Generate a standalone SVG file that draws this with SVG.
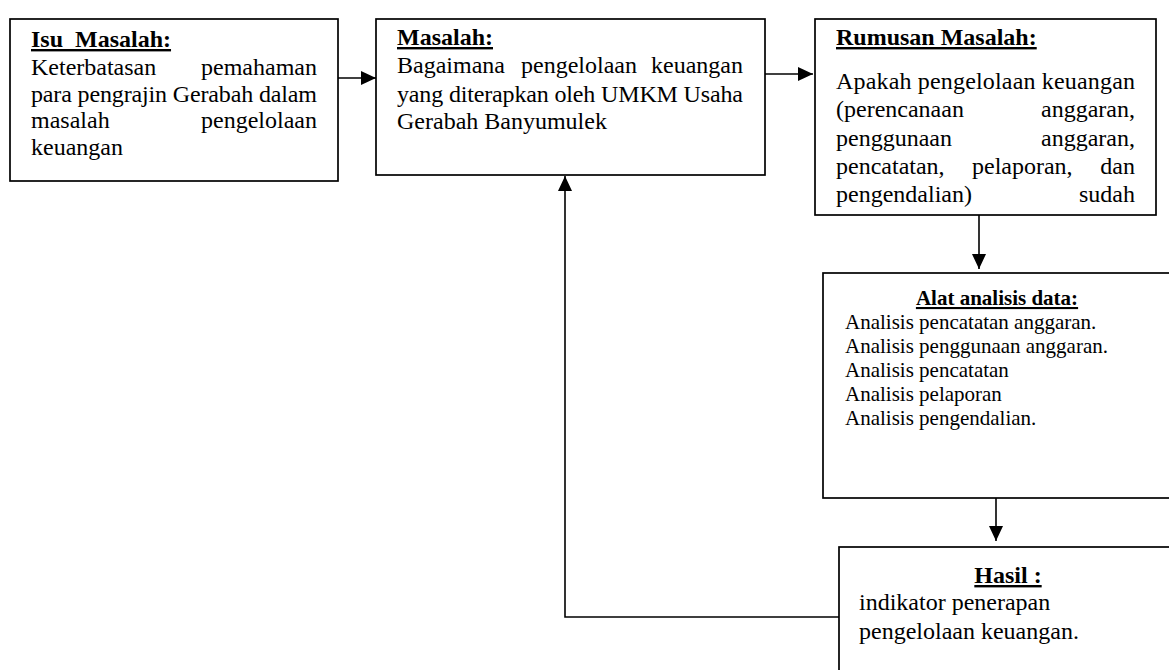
<svg xmlns="http://www.w3.org/2000/svg" width="1169" height="670" viewBox="0 0 1169 670">
<style>
.box{fill:#fff;stroke:#000;stroke-width:1.7}
.t{font-family:"Liberation Serif","Times New Roman",serif;font-size:24px;fill:#000}
.s{font-family:"Liberation Serif","Times New Roman",serif;font-size:21px;fill:#000}
.h{font-weight:bold;text-decoration:underline}
.c{fill:none;stroke:#000;stroke-width:1.6}
</style>
<defs>
<marker id="ah" markerUnits="userSpaceOnUse" markerWidth="16" markerHeight="14" refX="15" refY="7" orient="auto">
<path d="M0,0 L15,7 L0,14 Z" fill="#000"/>
</marker>
</defs>
<rect width="1169" height="670" fill="#fff"/>
<g id="connectors">
<line class="c" x1="338" y1="78" x2="376" y2="78" marker-end="url(#ah)"/>
<line class="c" x1="765" y1="74" x2="813" y2="74" marker-end="url(#ah)"/>
<line class="c" x1="979" y1="215" x2="979" y2="269" marker-end="url(#ah)"/>
<line class="c" x1="996" y1="498" x2="996" y2="541" marker-end="url(#ah)"/>
<polyline class="c" points="839,617 565,617 565,176" marker-end="url(#ah)"/>
</g>
<g id="isu">
<rect class="box" x="10" y="19" width="328" height="162"/>
<text class="t h" x="31" y="47" xml:space="preserve">Isu  Masalah:</text>
<text class="t" x="31" y="75">Keterbatasan</text>
<text class="t" x="317" y="75" text-anchor="end">pemahaman</text>
<text class="t" x="31" y="102" textLength="286" lengthAdjust="spacing">para pengrajin Gerabah dalam</text>
<text class="t" x="31" y="128">masalah</text>
<text class="t" x="317" y="128" text-anchor="end">pengelolaan</text>
<text class="t" x="31" y="155">keuangan</text>
</g>
<g id="masalah">
<rect class="box" x="376" y="19" width="389" height="156"/>
<text class="t h" x="397" y="45">Masalah:</text>
<text class="t" x="397" y="73">Bagaimana</text>
<text class="t" x="521" y="73">pengelolaan</text>
<text class="t" x="743" y="73" text-anchor="end">keuangan</text>
<text class="t" x="397" y="102" textLength="346" lengthAdjust="spacing">yang diterapkan oleh UMKM Usaha</text>
<text class="t" x="397" y="129">Gerabah Banyumulek</text>
</g>
<g id="rumusan">
<rect class="box" x="815" y="19" width="341" height="196"/>
<text class="t h" x="836" y="45">Rumusan Masalah:</text>
<text class="t" x="836" y="89" textLength="299" lengthAdjust="spacing">Apakah pengelolaan keuangan</text>
<text class="t" x="836" y="117">(perencanaan</text>
<text class="t" x="1135" y="117" text-anchor="end">anggaran,</text>
<text class="t" x="836" y="146">penggunaan</text>
<text class="t" x="1135" y="146" text-anchor="end">anggaran,</text>
<text class="t" x="836" y="174">pencatatan,</text>
<text class="t" x="972" y="174">pelaporan,</text>
<text class="t" x="1135" y="174" text-anchor="end">dan</text>
<text class="t" x="836" y="202">pengendalian)</text>
<text class="t" x="1135" y="202" text-anchor="end">sudah</text>
</g>
<g id="alat">
<rect class="box" x="823" y="273" width="360" height="225"/>
<text class="s h" x="997" y="305" text-anchor="middle">Alat analisis data:</text>
<text class="s" x="845" y="329">Analisis pencatatan anggaran.</text>
<text class="s" x="845" y="353">Analisis penggunaan anggaran.</text>
<text class="s" x="845" y="377">Analisis pencatatan</text>
<text class="s" x="845" y="401">Analisis pelaporan</text>
<text class="s" x="845" y="425">Analisis pengendalian.</text>
</g>
<g id="hasil">
<rect class="box" x="839" y="547" width="350" height="140"/>
<text class="t h" x="1008" y="583" text-anchor="middle">Hasil :</text>
<text class="t" x="859" y="610">indikator penerapan</text>
<text class="t" x="859" y="639">pengelolaan keuangan.</text>
</g>
</svg>
